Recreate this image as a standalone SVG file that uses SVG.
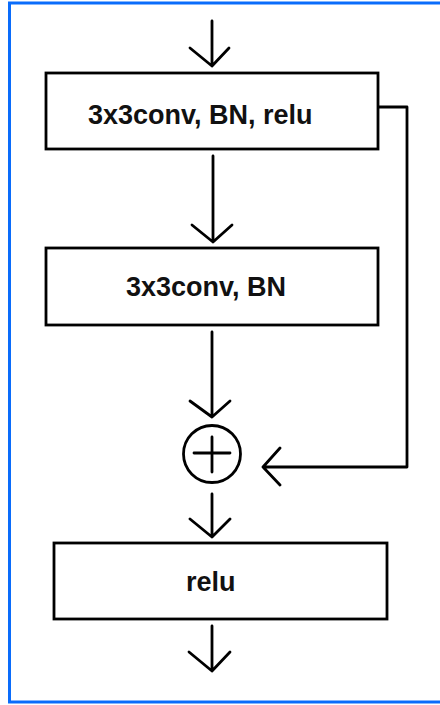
<svg xmlns="http://www.w3.org/2000/svg" width="440" height="705" viewBox="0 0 440 705">
<style>
.frame{fill:none;stroke:#0a6cfb;stroke-width:3}
.box{fill:#fff;stroke:#000;stroke-width:2.8}
.ln{fill:none;stroke:#000;stroke-width:2.8;stroke-linecap:round;stroke-linejoin:round}
.lbl{font-family:"Liberation Sans",Arial,sans-serif;font-weight:bold;font-size:27px;fill:#111}
</style>
<rect width="440" height="705" fill="#fff"/>
<rect class="frame" x="9.5" y="3" width="440" height="699"/>
<g id="connectors">
<path class="ln" d="M212 21V66M190 48L212 66L229 48"/>
<path class="ln" d="M213 156V242M192 225L213 242L232 225"/>
<path class="ln" d="M212 332V417M190 401L212 417L230 401"/>
<path class="ln" d="M212 494V537M190 519L212 537L230 519"/>
<path class="ln" d="M212 626V671M189 652L212 671L230 652"/>
<path class="ln" d="M378 107H407V467H263M280 448L263 467L280 485"/>
</g>
<g id="conv1">
<rect class="box" x="46" y="73" width="332" height="76"/>
<text class="lbl" x="88" y="124">3x3conv, BN, relu</text>
</g>
<g id="conv2">
<rect class="box" x="46" y="248" width="332" height="77"/>
<text class="lbl" x="126" y="296">3x3conv, BN</text>
</g>
<g id="add">
<circle class="ln" cx="212" cy="454" r="28.5"/>
<path class="ln" d="M194 453H230M212 437V472"/>
</g>
<g id="relu">
<rect class="box" x="54" y="543" width="333" height="76"/>
<text class="lbl" x="186" y="591">relu</text>
</g>
</svg>
